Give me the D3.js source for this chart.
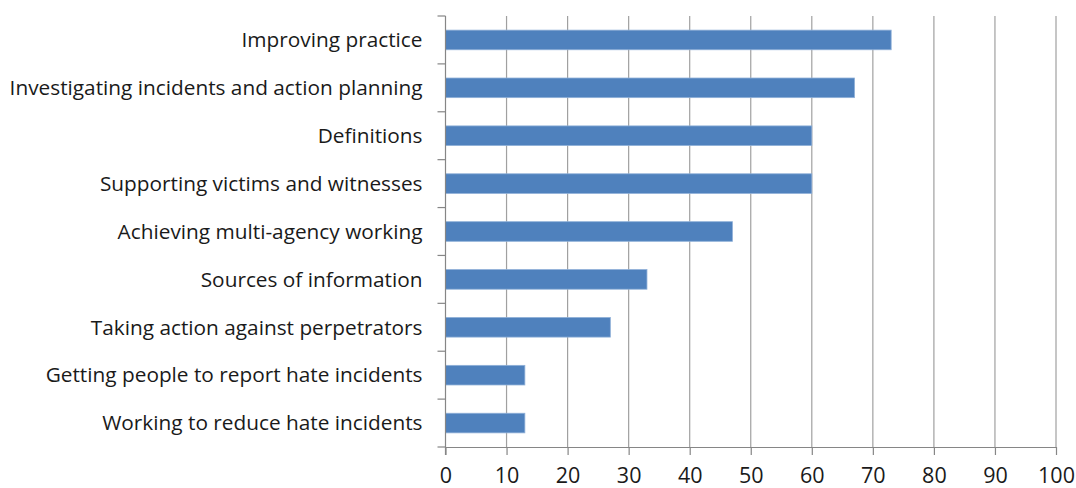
<!DOCTYPE html>
<html>
<head>
<meta charset="utf-8">
<script src="https://cdn.jsdelivr.net/npm/d3@7"></script>
<style>
  html, body { margin: 0; padding: 0; background: #fff; }
  svg text { font-family: "Open Sans", "Liberation Sans", sans-serif; fill: #1a1a1a; }
</style>
</head>
<body>
<div id="chart"></div>
<script>
// Данные
const categories = [
    "Improving practice",
    "Investigating incidents and action planning",
    "Definitions",
    "Supporting victims and witnesses",
    "Achieving multi-agency working",
    "Sources of information",
    "Taking action against perpetrators",
    "Getting people to report hate incidents",
    "Working to reduce hate incidents"
];
const values = [73, 67, 60, 60, 47, 33, 27, 13, 13];
const xTicks = [0, 10, 20, 30, 40, 50, 60, 70, 80, 90, 100];

function drawChart() {
    const width = 1076, height = 488;
    const margin = { top: 16, right: 20, bottom: 41, left: 445.5 };

    const svg = d3.select("#chart").append("svg")
        .attr("width", width)
        .attr("height", height);

    const x = d3.scaleLinear()
        .domain([0, 100])
        .range([margin.left, width - margin.right]);

    const y = d3.scaleBand()
        .domain(categories)
        .range([margin.top, height - margin.bottom])
        .paddingInner(0.59)
        .paddingOuter(0.295);

    const step = y.step();
    const bottom = height - margin.bottom;

    // сетка
    svg.append("g")
        .selectAll("line")
        .data(xTicks.slice(1))
        .enter().append("line")
        .attr("x1", d => x(d)).attr("x2", d => x(d))
        .attr("y1", margin.top).attr("y2", bottom)
        .attr("stroke", "#a0a0a0")
        .attr("stroke-width", 1.2);

    // столбцы
    svg.append("g")
        .selectAll("rect")
        .data(values)
        .enter().append("rect")
        .attr("x", x(0))
        .attr("y", (d, i) => y(categories[i]))
        .attr("width", d => x(d) - x(0))
        .attr("height", y.bandwidth())
        .attr("fill", "#4f81bd")
        .attr("stroke", "#8fb0d8")
        .attr("stroke-width", 0.8);

    // ось Y
    const yAxis = svg.append("g");
    yAxis.append("line")
        .attr("x1", x(0)).attr("x2", x(0))
        .attr("y1", margin.top).attr("y2", bottom + 8)
        .attr("stroke", "#868686").attr("stroke-width", 1.2);
    yAxis.selectAll(".ytick")
        .data(d3.range(categories.length + 1))
        .enter().append("line")
        .attr("x1", x(0) - 8).attr("x2", x(0))
        .attr("y1", i => margin.top + i * step)
        .attr("y2", i => margin.top + i * step)
        .attr("stroke", "#868686").attr("stroke-width", 1.2);
    yAxis.selectAll("text")
        .data(categories)
        .enter().append("text")
        .attr("x", x(0) - 23)
        .attr("y", d => y(d) + y.bandwidth() / 2)
        .attr("dy", "0.35em")
        .attr("text-anchor", "end")
        .attr("font-size", "20.8px")
        .text(d => d);

    // ось X
    const xAxis = svg.append("g")
        .attr("transform", `translate(0,${bottom})`)
        .call(d3.axisBottom(x).tickValues(xTicks).tickSize(8).tickPadding(13).tickSizeOuter(0));
    xAxis.select(".domain").attr("stroke", "#868686").attr("stroke-width", 1.2);
    xAxis.selectAll(".tick line").attr("stroke", "#868686").attr("stroke-width", 1.2);
    xAxis.selectAll(".tick text")
        .attr("font-size", "21.5px")
        .attr("fill", "#1a1a1a");
}

document.addEventListener('DOMContentLoaded', drawChart);
</script>
</body>
</html>
